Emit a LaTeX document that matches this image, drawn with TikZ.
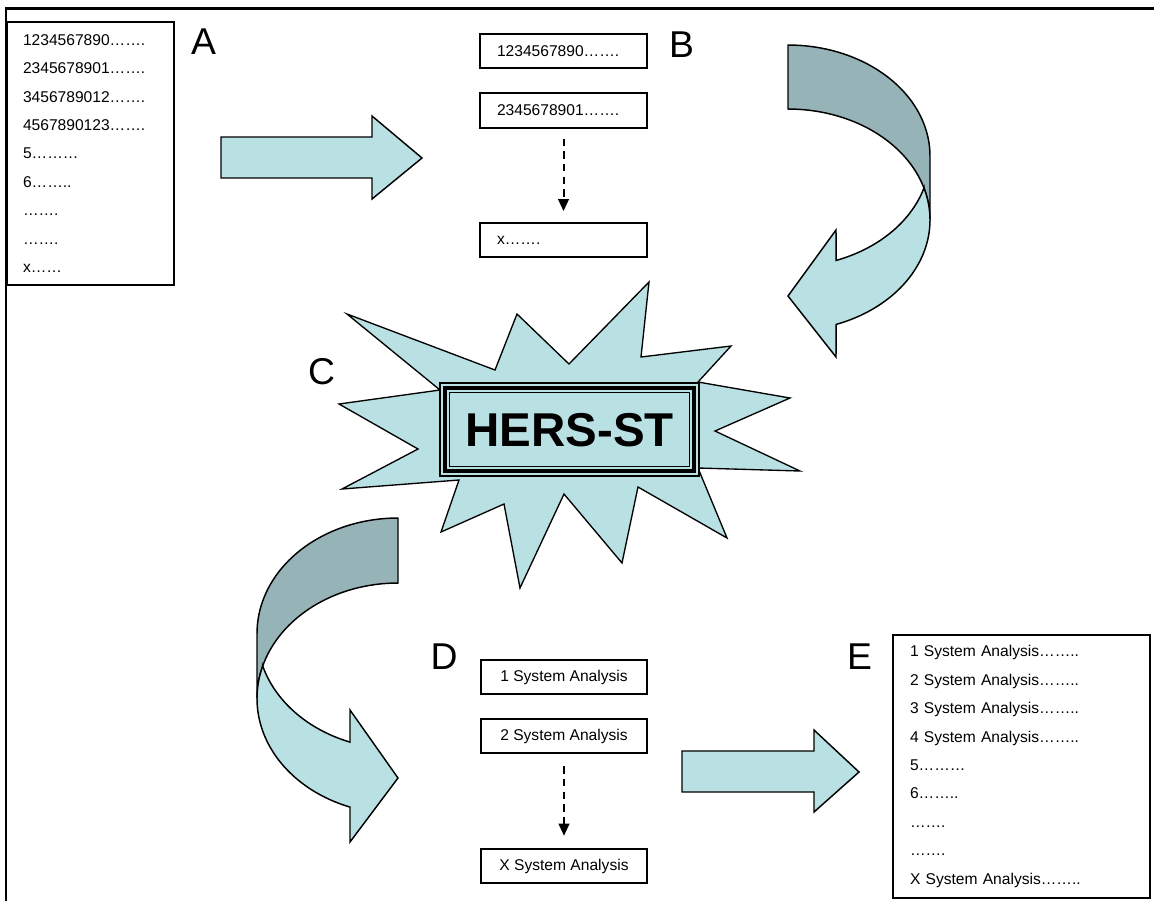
\documentclass[tikz,border=0pt]{standalone}
\usepackage{fontspec}
\setmainfont{Liberation Sans}
\usetikzlibrary{calc,arrows.meta}
\definecolor{lightb}{RGB}{185,224,227}
\definecolor{darkb}{RGB}{150,179,183}
\tikzset{
 shapeline/.style={draw=black, line width=1.1pt, line join=miter},
 lightshape/.style={shapeline, fill=lightb},
 darkshape/.style={shapeline, fill=darkb},
 listbox/.style={draw, line width=1.4pt, align=left, inner ysep=0pt, font=\fontsize{11.7}{21.3}\selectfont, minimum height=197.25pt},
 itembox/.style={draw, line width=1.4pt, minimum width=124.5pt, minimum height=26pt, inner sep=0pt, font=\fontsize{11.7}{14}\selectfont},
 leftitem/.style={itembox, align=left, text width=99.75pt, inner xsep=12.75pt},
 letter/.style={font=\fontsize{28}{30}\selectfont, inner sep=0pt, text height=20pt, text depth=0pt},
 flowdash/.style={dash pattern=on 5.5pt off 4pt, line width=1.5pt, -{Triangle[width=8pt,length=9pt]}},
}
\begin{document}
\begin{tikzpicture}[x=0.75pt,y=-0.75pt]
\useasboundingbox (0,0) rectangle (1154,901);
% frame
\draw[line width=2pt] (6,901) -- (6,8.5) -- (1154,8.5);

% A list
\node[listbox, text width=101.25pt, inner xsep=12pt] (A) at (90.5,153.5)
 {1234567890…….\\2345678901…….\\3456789012…….\\4567890123…….\\5………\\6……..\\…….\\…….\\x……};
\node[letter] (la) at (203.5,41.5) {A};

% top block arrow
\draw[lightshape] (221,137) -- (372,137) -- (372,116) -- (422,158) -- (372,199) -- (372,178) -- (221,178) -- cycle;

% B boxes
\node[leftitem] (b1) at (563.5,51) {1234567890…….};
\node[leftitem] (b2) at (563.5,110.5) {2345678901…….};
\node[leftitem] (b3) at (563.5,240) {x…….};
\draw[flowdash, shorten <=7.5pt, shorten >=8pt] (b2.south) -- (b3.north);
\node[letter] (lb) at (681.5,44) {B};

% curved arrow top right
\draw[darkshape] plot[domain=-90:0, samples=40, variable=\t] ({788+142*cos(\t)},{156+111*sin(\t)})
  -- (930,220)
  -- plot[domain=0:-90, samples=40, variable=\t] ({788+142*cos(\t)},{220+111*sin(\t)}) -- cycle;
\draw[lightshape] plot[domain=16.7:70.2, samples=40, variable=\t] ({788+142*cos(\t)},{156+111*sin(\t)})
  -- (836,230) -- (788,296) -- (836,357)
  -- plot[domain=70.2:0, samples=40, variable=\t] ({788+142*cos(\t)},{220+111*sin(\t)})
  -- plot[domain=0:-16.7, samples=10, variable=\t] ({788+142*cos(\t)},{220+111*sin(\t)}) -- cycle;

% star
\draw[lightshape, line width=1pt] (347,314) -- (495,370) -- (517,314) -- (569,364) -- (649,282) -- (641,357)
 -- (731,346) -- (698,382) -- (790,398) -- (715,431) -- (800,471) -- (698,468) -- (727,538)
 -- (638,487) -- (622,563) -- (564,494) -- (520,588) -- (504,504) -- (441,532) -- (459,480)
 -- (342,489) -- (418,449) -- (339,404) -- (440,390) -- cycle;
\node[draw, line width=0.8pt, fill=lightb, minimum width=194.25pt, minimum height=69.75pt, inner sep=0pt,
 font=\fontsize{35.6}{40}\selectfont\bfseries, text height=25.5pt, text depth=0pt] (hers) at (569.5,429.5) {HERS-ST};
\draw[line width=3pt] ($(hers.north west)+(5.5,5.5)$) rectangle ($(hers.south east)+(-5.5,-5.5)$);
\draw[line width=1pt] ($(hers.north west)+(10,10)$) rectangle ($(hers.south east)+(-10,-10)$);
\node[letter] (lc) at (321.5,371.5) {C};

% curved arrow bottom left
\draw[darkshape] plot[domain=-90:0, samples=40, variable=\t] ({398-141*cos(\t)},{633.5+115.5*sin(\t)})
  -- (257,698.5)
  -- plot[domain=0:-90, samples=40, variable=\t] ({398-141*cos(\t)},{698.5+115.5*sin(\t)}) -- cycle;
\draw[lightshape] plot[domain=16.3:70.1, samples=40, variable=\t] ({398-141*cos(\t)},{633.5+115.5*sin(\t)})
  -- (350,710) -- (398,778) -- (350,842)
  -- plot[domain=70.1:0, samples=40, variable=\t] ({398-141*cos(\t)},{698.5+115.5*sin(\t)})
  -- plot[domain=0:-16.3, samples=10, variable=\t] ({398-141*cos(\t)},{698.5+115.5*sin(\t)}) -- cycle;

% D boxes
\node[itembox] (d1) at (564,677) {1 System Analysis};
\node[itembox] (d2) at (564,736) {2 System Analysis};
\node[itembox] (d3) at (564,866) {X System Analysis};
\draw[flowdash, shorten <=9pt, shorten >=9pt] (d2.south) -- (d3.north);
\node[letter] (ld) at (444,656.5) {D};

% bottom block arrow
\draw[lightshape] (682,751) -- (814,751) -- (814,730) -- (859,772) -- (814,812) -- (814,792) -- (682,792) -- cycle;

% E list
\node[listbox, text width=167.25pt, inner xsep=12.75pt] (E) at (1021.5,766.5)
 {1 System Analysis……..\\2 System Analysis……..\\3 System Analysis……..\\4 System Analysis……..\\5………\\6……..\\…….\\…….\\X System Analysis……..};
\node[letter] (le) at (859.5,656.5) {E};
\end{tikzpicture}
\end{document}
